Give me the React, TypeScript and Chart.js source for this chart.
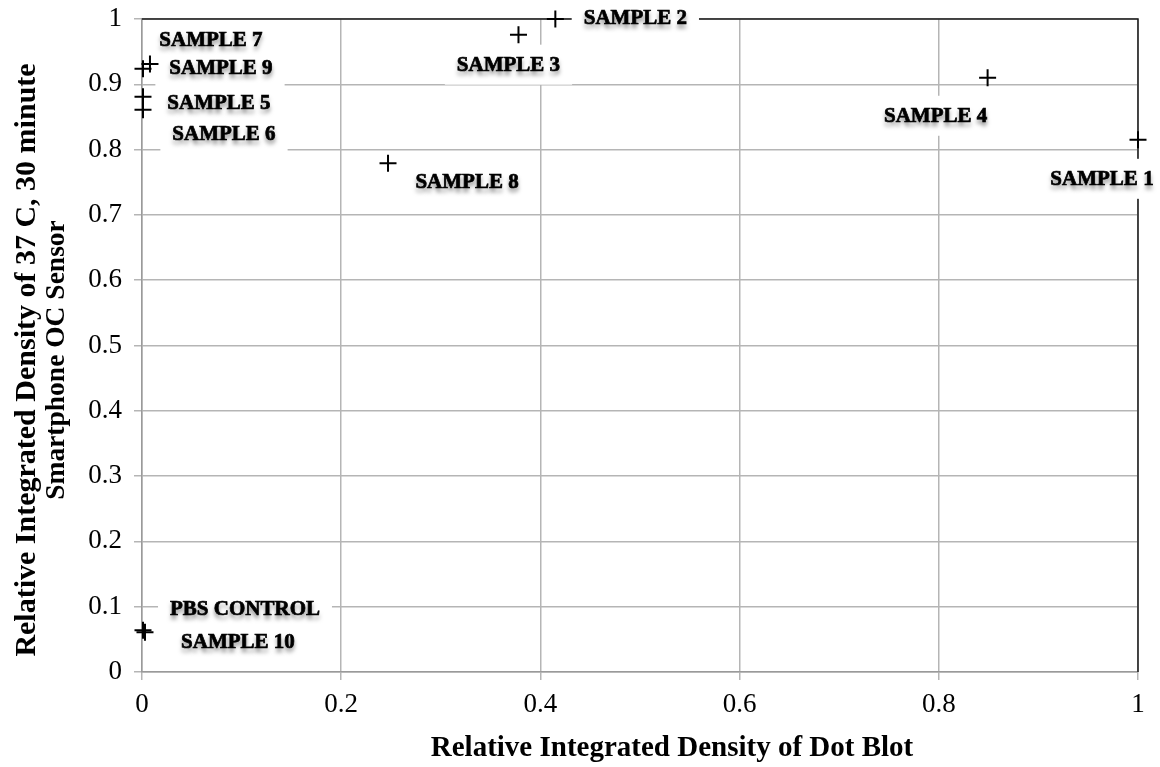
import React, { useEffect, useRef } from "react";
import { Chart, registerables } from "chart.js";

Chart.register(...registerables);

// ---- Data ----
const sampleNames = [
  "SAMPLE 1",
  "SAMPLE 2",
  "SAMPLE 3",
  "SAMPLE 4",
  "SAMPLE 5",
  "SAMPLE 6",
  "SAMPLE 7",
  "SAMPLE 8",
  "SAMPLE 9",
  "SAMPLE 10",
  "PBS CONTROL",
];
const dotBlotDensity = [1.0, 0.415, 0.378, 0.849, 0.001, 0.001, 0.008, 0.247, 0.001, 0.003, 0.001];
const sensorDensity = [0.815, 1.0, 0.976, 0.91, 0.881, 0.861, 0.931, 0.779, 0.924, 0.061, 0.064];

const xTickLabels = ["0", "0.2", "0.4", "0.6", "0.8", "1"];
const yTickLabels = ["0", "0.1", "0.2", "0.3", "0.4", "0.5", "0.6", "0.7", "0.8", "0.9", "1"];

const xTitle = "Relative Integrated Density of Dot Blot";
const yTitle = ["Relative Integrated Density of 37 C, 30 minute", "Smartphone OC Sensor"];

// label placement relative to each point (layout only)
const labelOffsets: [number, number][] = [
  [-36, 40],
  [80, 0],
  [-10, 31],
  [-52, 39],
  [76, 7],
  [81, 25],
  [61, -23],
  [79, 19],
  [78, 0],
  [93, 10],
  [102, -21],
];

const FONT = '"Liberation Serif", "Times New Roman", serif';

const labelPlugin = {
  id: "sampleLabels",
  beforeDatasetsDraw(chart: any) {
    const { ctx, chartArea } = chart;
    ctx.save();
    // black top / right frame
    ctx.strokeStyle = "#1a1a1a";
    ctx.lineWidth = 1.5;
    ctx.beginPath();
    ctx.moveTo(chartArea.left, chartArea.top);
    ctx.lineTo(chartArea.right, chartArea.top);
    ctx.lineTo(chartArea.right, chartArea.bottom);
    ctx.stroke();

    ctx.font = `bold 21px ${FONT}`;
    ctx.textAlign = "center";
    ctx.textBaseline = "middle";
    const meta = chart.getDatasetMeta(0);
    const items = meta.data.map((pt: any, i: number) => {
      const [dx, dy] = labelOffsets[i];
      return { cx: pt.x + dx, cy: pt.y + dy, text: sampleNames[i], w: ctx.measureText(sampleNames[i]).width };
    });
    ctx.fillStyle = "#ffffff";
    items.forEach((it: any) => {
      ctx.fillRect(it.cx - it.w / 2 - 12, it.cy - 21, it.w + 24, 40);
    });
    ctx.fillStyle = "#000";
    ctx.strokeStyle = "#000";
    ctx.lineWidth = 0.7;
    ctx.shadowColor = "rgba(0,0,0,0.5)";
    ctx.shadowBlur = 4;
    ctx.shadowOffsetY = 4;
    items.forEach((it: any) => {
      ctx.fillText(it.text, it.cx, it.cy);
    });
    ctx.shadowColor = "rgba(0,0,0,0)";
    items.forEach((it: any) => {
      ctx.strokeText(it.text, it.cx, it.cy);
    });
    ctx.restore();
  },
  afterDraw(chart: any) {
    const { ctx } = chart;
    ctx.save();
    ctx.fillStyle = "#000";
    ctx.textAlign = "center";
    ctx.textBaseline = "middle";
    ctx.font = `bold 29px ${FONT}`;
    ctx.fillText(xTitle, 672, 749);
    ctx.translate(0, 360);
    ctx.rotate(-Math.PI / 2);
    ctx.font = `bold 30px ${FONT}`;
    ctx.fillText(yTitle[0], 0, 27);
    ctx.font = `bold 27.5px ${FONT}`;
    ctx.fillText(yTitle[1], 0, 57);
    ctx.restore();
  },
};

export default function App() {
  const canvasRef = useRef<HTMLCanvasElement | null>(null);

  useEffect(() => {
    document.body.style.margin = "0";
    const canvas = canvasRef.current;
    if (!canvas) return;
    const points = dotBlotDensity.map((x, i) => ({ x, y: sensorDensity[i] }));
    const chart = new Chart(canvas, {
      type: "scatter",
      data: {
        datasets: [
          {
            label: "Samples",
            data: points,
            pointStyle: "cross",
            pointRadius: 8.5,
            pointBorderWidth: 2,
            borderColor: "#000",
            backgroundColor: "#000",
            clip: false,
          } as any,
        ],
      },
      options: {
        animation: false,
        responsive: false,
        maintainAspectRatio: false,
        layout: { padding: { top: 19, right: 22, left: 0, bottom: 0 } },
        plugins: {
          legend: { display: false },
          tooltip: { enabled: false },
        },
        scales: {
          x: {
            type: "linear",
            min: 0,
            max: 1,
            afterFit: (scale: any) => {
              scale.height = 95;
              scale.paddingLeft = 0;
              scale.paddingRight = 0;
            },
            ticks: {
              stepSize: 0.2,
              color: "#000",
              font: { family: FONT, size: 27 },
              padding: 9,
              maxRotation: 0,
              callback: (_v: any, i: number) => xTickLabels[i],
            },
            grid: { color: "#b5b5b5", lineWidth: 1.5, tickLength: 8 },
            border: { color: "#9a9a9a", width: 1.5 },
            title: { display: false, text: xTitle },
          },
          y: {
            type: "linear",
            min: 0,
            max: 1,
            afterFit: (scale: any) => {
              scale.width = 142;
              scale.paddingTop = 0;
              scale.paddingBottom = 0;
            },
            ticks: {
              stepSize: 0.1,
              color: "#000",
              font: { family: FONT, size: 27 },
              padding: 12,
              callback: (_v: any, i: number) => yTickLabels[i],
            },
            grid: { color: "#b5b5b5", lineWidth: 1.5, tickLength: 8 },
            border: { color: "#9a9a9a", width: 1.5 },
            title: { display: false, text: yTitle },
          },
        },
      },
      plugins: [labelPlugin],
    });
    return () => chart.destroy();
  }, []);

  return (
    <div style={{ position: "absolute", left: 0, top: 0, width: 1160, height: 767, background: "#fff" }}>
      <canvas ref={canvasRef} width={1160} height={767} style={{ display: "block" }} />
    </div>
  );
}
